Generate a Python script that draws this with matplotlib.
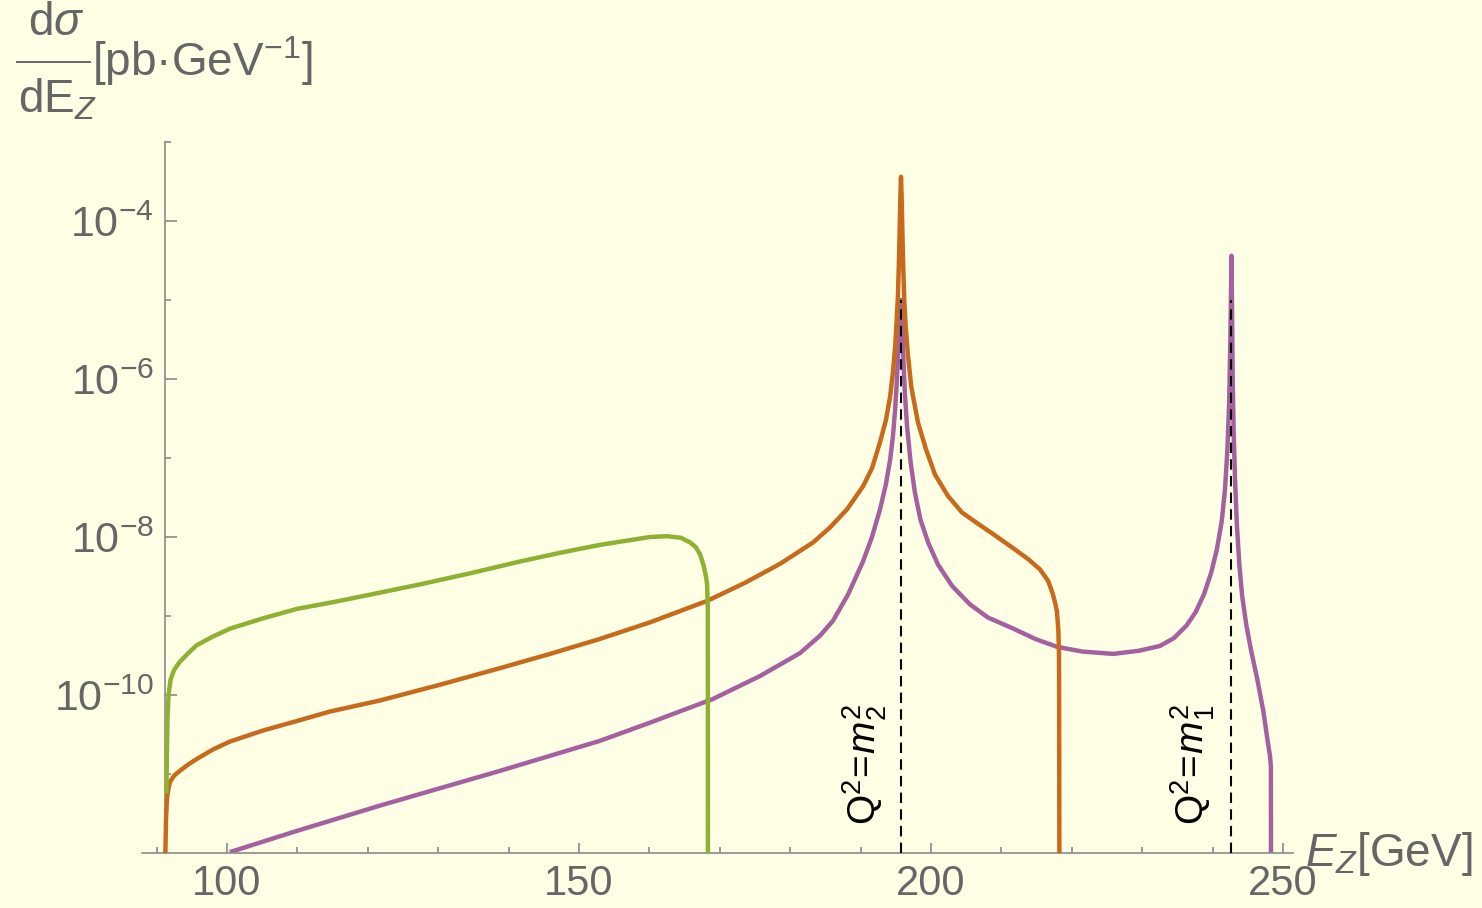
import numpy as np
import matplotlib
matplotlib.use("Agg")
import matplotlib.pyplot as plt
from matplotlib.lines import Line2D
from matplotlib.ticker import FixedLocator, FixedFormatter, NullFormatter

# paleta (estilo Mathematica)
BG      = "#ffffe6"
C_GREEN = "#8fb131"
C_ORNG  = "#c86a1c"
C_PURP  = "#a5619f"
C_AXIS  = "#8a8a8a"
C_TEXT  = "#666666"

plt.rcParams["font.family"] = ["Liberation Sans", "DejaVu Sans"]
plt.rcParams["mathtext.fontset"] = "custom"
plt.rcParams["mathtext.rm"] = "Liberation Sans"
plt.rcParams["mathtext.it"] = "Liberation Sans:italic"
plt.rcParams["mathtext.bf"] = "Liberation Sans:bold"

# ---- dados (E_Z em GeV, log10 de dsigma/dE_Z) ----
green_x = [91.4, 91.45, 91.55, 91.7, 92.0, 92.5, 93.3, 94.5, 95.7, 98.0,
           100.43, 105.11, 109.94, 115.34, 120.31, 127.41, 134.52, 141.62,
           147.30, 152.98, 157.24, 160.09, 162.5, 164.5, 165.8, 166.6, 167.2,
           167.7, 168.0, 168.2, 168.3, 168.32]
green_logy = [-11.22, -10.80, -10.30, -10.00, -9.80, -9.68, -9.58, -9.47,
              -9.37, -9.26, -9.16, -9.03, -8.91, -8.82, -8.73, -8.60, -8.46,
              -8.31, -8.20, -8.10, -8.04, -8.00, -7.99, -8.01, -8.07, -8.13,
              -8.22, -8.36, -8.48, -8.60, -8.90, -13.0]

orange_x = [91.19, 91.25, 91.35, 91.48, 91.7, 91.9, 92.5, 93.3, 94.5, 95.7,
            98.0, 100.4, 105.1, 109.9, 114.6, 121.7, 130.26, 138.78, 145.88,
            152.98, 160.09, 168.18, 173.58, 178.55, 183.24, 185.65, 188.07,
            190.34, 191.62, 192.76, 193.6, 194.2, 194.6, 194.9, 195.1, 195.3,
            195.45, 195.55, 195.65, 195.74, 195.83, 195.93, 196.03, 196.2,
            196.4, 196.73, 197.2, 198.15, 199.29, 200.57, 202.41, 204.4,
            206.96, 209.1, 211.65, 213.8, 215.48, 216.6, 216.9, 217.3, 217.65,
            217.9, 218.1, 218.18, 218.2, 218.25]
orange_logy = [-13.0, -12.0, -11.55, -11.31, -11.18, -11.10, -11.02, -10.96,
               -10.88, -10.81, -10.69, -10.59, -10.45, -10.33, -10.21, -10.07,
               -9.87, -9.66, -9.48, -9.29, -9.08, -8.81, -8.58, -8.34, -8.07,
               -7.88, -7.65, -7.36, -7.13, -6.80, -6.52, -6.22, -5.91, -5.60,
               -5.30, -4.95, -4.50, -4.10, -3.70, -3.44, -3.70, -4.10, -4.50,
               -5.00, -5.33, -5.70, -6.10, -6.55, -6.89, -7.21, -7.48, -7.69,
               -7.85, -7.98, -8.14, -8.28, -8.41, -8.55, -8.62, -8.72, -8.84,
               -8.95, -9.20, -9.50, -10.00, -13.0]

purple_x = [100.71, 109.94, 121.73, 130.26, 138.78, 145.88, 152.98, 160.09,
            169.03, 175.71, 181.39, 184.23, 186.08, 188.21, 190.34, 191.62,
            192.76, 193.6, 194.2, 194.6, 194.9, 195.1, 195.3, 195.5, 195.74,
            195.9, 196.1, 196.3, 196.6, 197.1, 197.7, 198.5, 199.6, 201.0,
            203.0, 205.5, 208.1, 211.7, 214.8, 217.9, 221.5, 225.9, 229.5,
            232.5, 234.5, 236.3, 237.6, 238.8, 239.8, 240.6, 241.3, 241.76,
            242.1, 242.35, 242.5, 242.6, 242.68, 242.75, 242.85, 243.0, 243.2,
            243.45, 243.8, 244.2, 244.8, 245.5, 246.3, 247.2, 247.85, 248.15,
            248.28, 248.3]
purple_logy = [-11.98, -11.72, -11.40, -11.18, -10.96, -10.77, -10.58, -10.35,
               -10.05, -9.76, -9.47, -9.25, -9.06, -8.73, -8.31, -8.00, -7.65,
               -7.33, -7.02, -6.72, -6.39, -6.10, -5.76, -5.35, -5.00, -5.30,
               -5.80, -6.20, -6.60, -7.05, -7.43, -7.78, -8.07, -8.35, -8.62,
               -8.85, -9.02, -9.16, -9.29, -9.39, -9.45, -9.48, -9.44, -9.38,
               -9.28, -9.12, -8.95, -8.72, -8.45, -8.16, -7.80, -7.40, -6.90,
               -6.30, -5.60, -5.00, -4.44, -5.00, -6.00, -6.70, -7.30, -7.85,
               -8.35, -8.75, -9.12, -9.45, -9.78, -10.20, -10.60, -10.77,
               -10.90, -13.0]

m2_pos = 195.74     # Q^2 = m_2^2
m1_pos = 242.6      # Q^2 = m_1^2
dash_top = 1e-5

x_major = [100, 150, 200, 250]
x_minor = [90, 110, 120, 130, 140, 160, 170, 180, 190, 210, 220, 230, 240]
y_major = [1e-10, 1e-8, 1e-6, 1e-4]
y_labels = [r"$10^{-10}$", r"$10^{-8}$", r"$10^{-6}$", r"$10^{-4}$"]
y_minor = [1e-11, 1e-9, 1e-7, 1e-5, 1e-3]

W, H = 1482, 908
fig = plt.figure(figsize=(W / 100, H / 100), dpi=100)
fig.patch.set_facecolor(BG)
ax = fig.add_axes([142 / W, 55 / H, (1293 - 142) / W, (853 - 142) / H])
ax.set_facecolor(BG)

ax.plot(purple_x, 10.0 ** np.array(purple_logy), color=C_PURP, lw=3.2,
        solid_joinstyle="round", zorder=2)
ax.plot(orange_x, 10.0 ** np.array(orange_logy), color=C_ORNG, lw=3.2,
        solid_joinstyle="round", zorder=3)
ax.plot(green_x, 10.0 ** np.array(green_logy), color=C_GREEN, lw=3.2,
        solid_joinstyle="round", zorder=4)

for xv in (m2_pos, m1_pos):
    ax.plot([xv, xv], [1e-12, dash_top], color="black", lw=1.5,
            linestyle=(0, (5, 3)), zorder=5)

ax.text(190.6, 10 ** -11.65, r"$\mathrm{Q}^2\!=\!m_2^2$", rotation=90,
        ha="center", va="bottom", fontsize=28, color="black")
ax.text(237.2, 10 ** -11.65, r"$\mathrm{Q}^2\!=\!m_1^2$", rotation=90,
        ha="center", va="bottom", fontsize=28, color="black")

ax.set_yscale("log")
ax.set_xlim(87.93, 251.42)
ax.set_ylim(1e-12, 1e-3)

for side in ("top", "right"):
    ax.spines[side].set_visible(False)
ax.spines["left"].set_position(("data", 91.19))
for side in ("left", "bottom"):
    ax.spines[side].set_color(C_AXIS)
    ax.spines[side].set_linewidth(1.2)

ax.xaxis.set_major_locator(FixedLocator(x_major))
ax.xaxis.set_minor_locator(FixedLocator(x_minor))
ax.xaxis.set_minor_formatter(NullFormatter())
ax.yaxis.set_major_locator(FixedLocator(y_major))
ax.yaxis.set_major_formatter(FixedFormatter(y_labels))
ax.yaxis.set_minor_locator(FixedLocator(y_minor))
ax.yaxis.set_minor_formatter(NullFormatter())

ax.tick_params(axis="both", which="both", direction="in", color=C_AXIS,
               width=1.2, labelcolor=C_TEXT, labelsize=30)
ax.tick_params(axis="y", labelsize=31)
ax.tick_params(axis="x", which="major", length=7.2, pad=8)
ax.tick_params(axis="x", which="minor", length=4.3)
ax.tick_params(axis="y", which="major", length=8.6, pad=8)
ax.tick_params(axis="y", which="minor", length=4.3)

# rotulo do eixo y: fracao d(sigma)/dE_Z montada a mao
fig.text(56 / W, 1 - 35 / H, r"d$\sigma$", ha="center", va="baseline",
         fontsize=33, color=C_TEXT)
fig.add_artist(Line2D([17 / W, 90 / W], [1 - 62 / H, 1 - 62 / H],
                      color=C_TEXT, lw=1.4))
fig.text(18 / W, 1 - 112 / H, r"dE$_{Z}$", ha="left", va="baseline",
         fontsize=33, color=C_TEXT)
fig.text(92 / W, 1 - 76 / H, r"[pb·GeV$^{-1}$]", ha="left", va="baseline",
         fontsize=33, color=C_TEXT)
fig.text(1305 / W, 1 - 866 / H, r"$E_Z$[GeV]", ha="left", va="baseline",
         fontsize=33, color=C_TEXT)

fig.savefig("out.png", dpi=100, facecolor=fig.get_facecolor())
